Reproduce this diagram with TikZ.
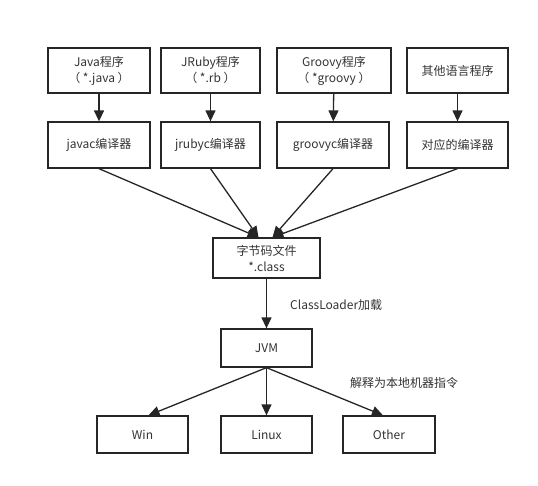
\documentclass[tikz,border=0pt]{standalone}
\usepackage{fontspec}
\setmainfont{Noto Sans CJK SC}
\usetikzlibrary{arrows.meta,positioning}
\definecolor{linegray}{HTML}{262626}
\definecolor{textgray}{HTML}{333333}

\begin{document}
\begin{tikzpicture}[x=1pt,y=-1pt,
    box/.style={rectangle, draw=linegray, line width=1.3pt, minimum height=45pt, inner sep=1pt, align=center, text=textgray, font=\fontsize{12}{16}\selectfont},
    flow/.style={-{Triangle[length=11pt,width=10pt]}, draw=linegray, line width=1.3pt},
    note/.style={text=textgray, font=\fontsize{12}{16}\selectfont, inner sep=0pt}]
    \useasboundingbox (0,0) rectangle (538,485);
    % source programs
    \node[box, minimum width=102pt] (java) at (99,70.5) {Java程序\\（ *.java ）};
    \node[box, minimum width=99pt] (ruby) at (210.5,70.5) {JRuby程序\\（ *.rb ）};
    \node[box, minimum width=114pt] (groovy) at (334,70.5) {Groovy程序\\（ *groovy ）};
    \node[box, minimum width=101pt] (other) at (457.5,70.5) {其他语言程序};
    % compilers
    \node[box, minimum width=102pt, minimum height=46pt] (javac) at (99,145) {javac编译器};
    \node[box, minimum width=99pt, minimum height=46pt] (jrubyc) at (210.5,145) {jrubyc编译器};
    \node[box, minimum width=112pt, minimum height=46pt] (groovyc) at (333,145) {groovyc编译器};
    \node[box, minimum width=101pt, minimum height=46pt] (otherc) at (457.5,145) {对应的编译器};
    \draw[flow] (java) -- (javac);
    \draw[flow] (ruby) -- (jrubyc);
    \draw[flow] (groovy) -- (groovyc);
    \draw[flow] (other) -- (otherc);
    % bytecode
    \node[box, minimum width=107pt, minimum height=40pt] (cls) at (266.5,258) {字节码文件\\*.class};
    \draw[flow] (javac.south) -- ([xshift=-8pt]cls.north);
    \draw[flow] (jrubyc.south) -- ([xshift=-8pt]cls.north);
    \draw[flow] (groovyc.south) -- ([xshift=6pt]cls.north);
    \draw[flow] (otherc.south) -- ([xshift=6pt]cls.north);
    % jvm
    \node[box, minimum width=91pt, minimum height=38pt] (jvm) at (266.5,348) {JVM};
    \draw[flow] (cls) -- (jvm);
    \node[note, anchor=west] (load) at (290,305) {ClassLoader加载};
    % platforms
    \node[box, minimum width=91pt, minimum height=37pt] (win) at (142.5,434.5) {Win};
    \node[box, minimum width=91pt, minimum height=37pt] (linux) at (266.5,434.5) {Linux};
    \node[box, minimum width=92pt, minimum height=37pt] (oth) at (389,434.5) {Other};
    \draw[flow] (jvm.south) -- ([xshift=6pt]win.north);
    \draw[flow] (jvm) -- (linux);
    \draw[flow] (jvm.south) -- ([xshift=-6pt]oth.north);
    \node[note, anchor=west] (interp) at (350,383) {解释为本地机器指令};
\end{tikzpicture}
\end{document}
